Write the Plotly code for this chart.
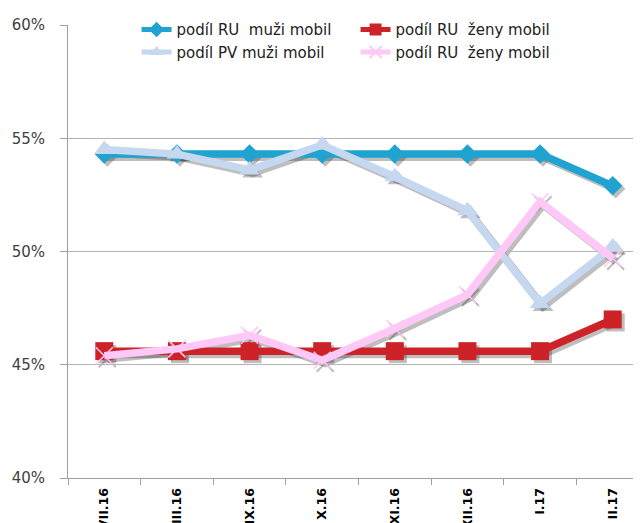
import plotly.graph_objects as go

# Data (values in %)
months = ["VII.16", "VIII.16", "IX.16", "X.16", "XI.16", "XII.16", "I.17", "II.17"]
ru_muzi = [54.3, 54.3, 54.3, 54.3, 54.3, 54.3, 54.3, 52.9]
ru_zeny = [45.6, 45.6, 45.6, 45.6, 45.6, 45.6, 45.6, 47.0]
pv_muzi = [54.5, 54.3, 53.6, 54.7, 53.3, 51.8, 47.7, 50.2]
ru_zeny2 = [45.4, 45.7, 46.3, 45.2, 46.6, 48.1, 52.2, 49.7]

series = [
    ("podíl RU  muži mobil", ru_muzi, "#21A3D1", "diamond", 15),
    ("podíl RU  ženy mobil", ru_zeny, "#CC2228", "square", 18),
    ("podíl PV muži mobil", pv_muzi, "#C6D8EF", "triangle-up", 18),
    ("podíl RU  ženy mobil", ru_zeny2, "#FFC8F6", "x-thin-open", 17),
]

W, H = 641, 523
ml, mr, mt, mb = 60, 0, 17, 53
pw, ph = W - ml - mr, H - mt - mb
sh = 3  # shadow offset in px
xs = sh / (pw / len(months))
ys = sh / (ph / 20)

fig = go.Figure()

# drop shadows (drawn on the first subplot, below the main one)
for name, vals, color, sym, size in series:
    fig.add_trace(go.Scatter(
        x=months, y=vals, xaxis="x", yaxis="y",
        mode="lines+markers", showlegend=False, hoverinfo="skip",
        line=dict(color="rgba(40,40,40,0.3)", width=8),
        marker=dict(symbol=sym, size=size, color="rgba(40,40,40,0.3)",
                    line=dict(width=2 if sym.startswith("x") else 0,
                              color="rgba(40,40,40,0.3)")),
    ))

for name, vals, color, sym, size in series:
    fig.add_trace(go.Scatter(
        x=months, y=vals, xaxis="x2", yaxis="y2", name=name,
        mode="lines+markers",
        line=dict(color=color, width=7.5),
        marker=dict(symbol=sym, size=size, color=color,
                    line=dict(width=1.5 if sym.startswith("x") else 0, color=color)),
    ))

fig.update_layout(
    width=W, height=H,
    margin=dict(l=ml, r=mr, t=mt, b=mb),
    paper_bgcolor="white", plot_bgcolor="rgba(0,0,0,0)",
    font=dict(family="DejaVu Sans", color="#404040"),
    xaxis=dict(type="category", domain=[sh / pw, 1], range=[-0.5, len(months) - 0.5 - xs],
               visible=False, anchor="y"),
    yaxis=dict(domain=[0, 1 - sh / ph], range=[40 + ys, 60], visible=False, anchor="x"),
    xaxis2=dict(type="category", domain=[0, 1], range=[-0.5, len(months) - 0.5],
                anchor="y2", showline=True, linecolor="#a0a0a0", linewidth=1,
                ticks="outside", tickson="boundaries", ticklen=6, tickcolor="#a0a0a0",
                tickangle=-90, ticklabelstandoff=4,
                tickfont=dict(size=12.5, color="black", weight="bold"),
                showgrid=False, automargin=False),
    yaxis2=dict(domain=[0, 1], range=[40, 60], dtick=5, ticksuffix="%",
                anchor="x2", showline=True, linecolor="#a0a0a0", linewidth=1,
                ticks="outside", ticklen=7, tickcolor="#a0a0a0", ticklabelstandoff=12,
                showgrid=True, gridcolor="#b4b4b4", gridwidth=1,
                tickfont=dict(size=15, color="#404040"), automargin=False,
                zeroline=False),
    legend=dict(orientation="h", x=0.118, y=1.026, xanchor="left", yanchor="top",
                entrywidth=174, entrywidthmode="pixels", traceorder="normal",
                bgcolor="rgba(0,0,0,0)", font=dict(size=15, color="#222222"),
                itemsizing="constant", tracegroupgap=0),
)

fig.write_html("out.html")
